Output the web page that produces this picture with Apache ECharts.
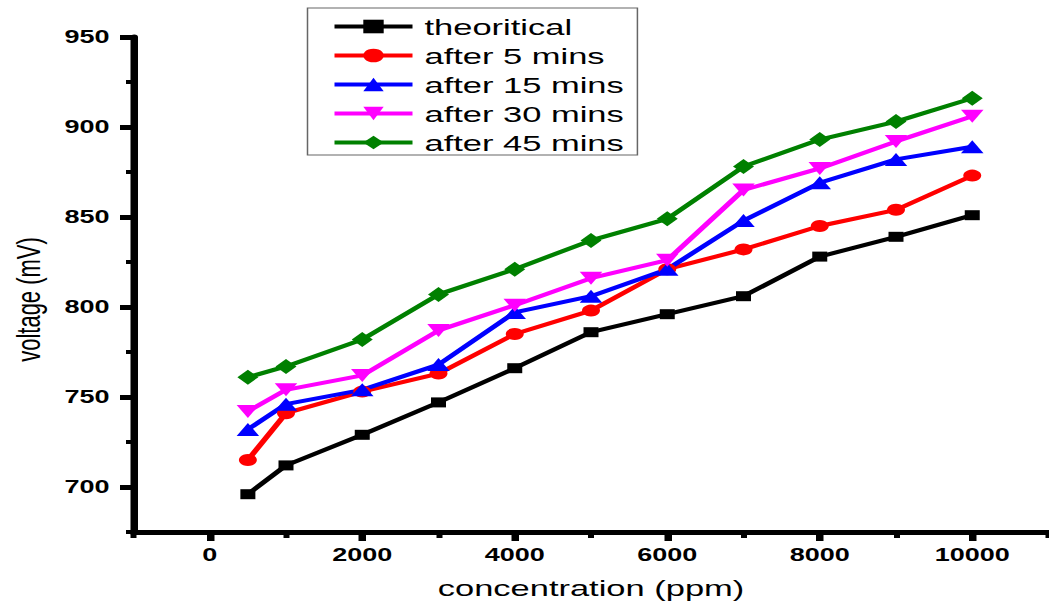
<!DOCTYPE html>
<html>
<head>
<meta charset="utf-8">
<script src="https://cdn.jsdelivr.net/npm/echarts@6/dist/echarts.min.js"></script>
<style>
  html, body { margin: 0; padding: 0; background: #fff; overflow: hidden; width: 1049px; height: 610px; }
  #chart { width: 700px; height: 610px; transform: scaleX(1.5); transform-origin: 0 0; }
</style>
</head>
<body>
<div id="chart"></div>
<script>
// ---- data ----
const concentration = [500, 1000, 2000, 3000, 4000, 5000, 6000, 7000, 8000, 9000, 10000];
const theoritical = [696, 712, 729, 747, 766, 786, 796, 806, 828, 839, 851];
const after5 = [715, 741, 753, 763, 785, 798, 821, 832, 845, 854, 873];
const after15 = [732, 746, 754, 768, 797, 806, 821, 848, 869, 882, 889];
const after30 = [742, 754, 762, 787, 801, 816, 826, 865, 877, 892, 906];
const after45 = [761, 767, 782, 807, 821, 837, 849, 878, 893, 903, 916];
const seriesNames = ['theoritical', 'after 5 mins', 'after 15 mins', 'after 30 mins', 'after 45 mins'];

// tick values
const xMajorTicks = [0, 2000, 4000, 6000, 8000, 10000];
const xMinorTicks = [-1000, 1000, 3000, 5000, 7000, 9000, 11000];
const yMajorTicks = [700, 750, 800, 850, 900, 950];
const yMinorTicks = [675, 725, 775, 825, 875, 925];

const pairs = arr => concentration.map((x, i) => [x, arr[i]]);

const chart = echarts.init(document.getElementById('chart'), null, { renderer: 'svg' });

const tickFont = { fontFamily: 'Liberation Sans, Arial, sans-serif', fontWeight: 'bold', fontSize: 18, color: '#000' };

const mkSeries = (name, data, color, symbol, size, rotate) => ({
  name, type: 'line', data: pairs(data),
  xAxisIndex: 0, yAxisIndex: 0,
  symbol, symbolSize: size, symbolRotate: rotate || 0,
  showSymbol: true,
  lineStyle: { color, width: 4 },
  itemStyle: { color, borderWidth: 0 },
  emphasis: { disabled: true },
  animation: false, z: 3
});

const option = {
  animation: false,
  backgroundColor: '#fff',
  grid: { left: 88, right: 1, top: 37, bottom: 78 },
  legend: {
    orient: 'vertical',
    left: 205, top: 8,
    padding: [7, 9, 1, 16],
    itemWidth: 52, itemHeight: 17, itemGap: 6,
    borderColor: '#666', borderWidth: 1,
    lineStyle: { width: 4 },
    textStyle: { fontFamily: 'Liberation Sans, Arial, sans-serif', fontSize: 23, lineHeight: 23, color: '#000', padding: [0, 0, 0, 3] },
    data: seriesNames
  },
  xAxis: [{
    type: 'value', min: -1000, max: 11000,
    position: 'bottom',
    name: 'concentration (ppm)', nameLocation: 'middle', nameGap: 44,
    nameTextStyle: { fontFamily: 'Liberation Sans, Arial, sans-serif', fontSize: 23, color: '#000' },
    axisLine: { show: true, onZero: false, lineStyle: { color: '#000', width: 5 } },
    axisTick: { show: true, inside: false, length: 9, customValues: xMajorTicks, lineStyle: { color: '#000', width: 5 } },
    axisLabel: Object.assign({ show: true, margin: 14, customValues: xMajorTicks, formatter: v => String(v) }, tickFont),
    splitLine: { show: false }
  }, {
    type: 'value', min: -1000, max: 11000,
    position: 'bottom', offset: 0,
    axisLine: { show: false, onZero: false },
    axisTick: { show: true, inside: false, length: 6, customValues: xMinorTicks, lineStyle: { color: '#000', width: 4 } },
    axisLabel: { show: false },
    splitLine: { show: false }
  }],
  yAxis: [{
    type: 'value', min: 675, max: 950,
    position: 'left',
    name: 'voltage (mV)', nameLocation: 'middle', nameGap: 59, nameRotate: 90,
    nameTextStyle: { fontFamily: 'Liberation Sans, Arial, sans-serif', fontSize: 22, color: '#000', padding: [0, 30, 0, 0] },
    axisLine: { show: true, onZero: false, lineStyle: { color: '#000', width: 5 } },
    axisTick: { show: true, inside: false, length: 9, customValues: yMajorTicks, lineStyle: { color: '#000', width: 5 } },
    axisLabel: Object.assign({ show: true, margin: 16, customValues: yMajorTicks, formatter: v => String(v) }, tickFont),
    splitLine: { show: false }
  }, {
    type: 'value', min: 675, max: 950,
    position: 'left', offset: 0,
    axisLine: { show: false, onZero: false },
    axisTick: { show: true, inside: false, length: 5, customValues: yMinorTicks, lineStyle: { color: '#000', width: 4 } },
    axisLabel: { show: false },
    splitLine: { show: false }
  }],
  series: [
    mkSeries(seriesNames[0], theoritical, '#000000', 'rect', 10),
    mkSeries(seriesNames[1], after5, '#ff0000', 'circle', 12),
    mkSeries(seriesNames[2], after15, '#0000ff', 'triangle', [15, 13]),
    mkSeries(seriesNames[3], after30, '#ff00ff', 'triangle', [15, 13], 180),
    mkSeries(seriesNames[4], after45, '#008000', 'diamond', [14, 15])
  ]
};
chart.setOption(option);
</script>
</body>
</html>
